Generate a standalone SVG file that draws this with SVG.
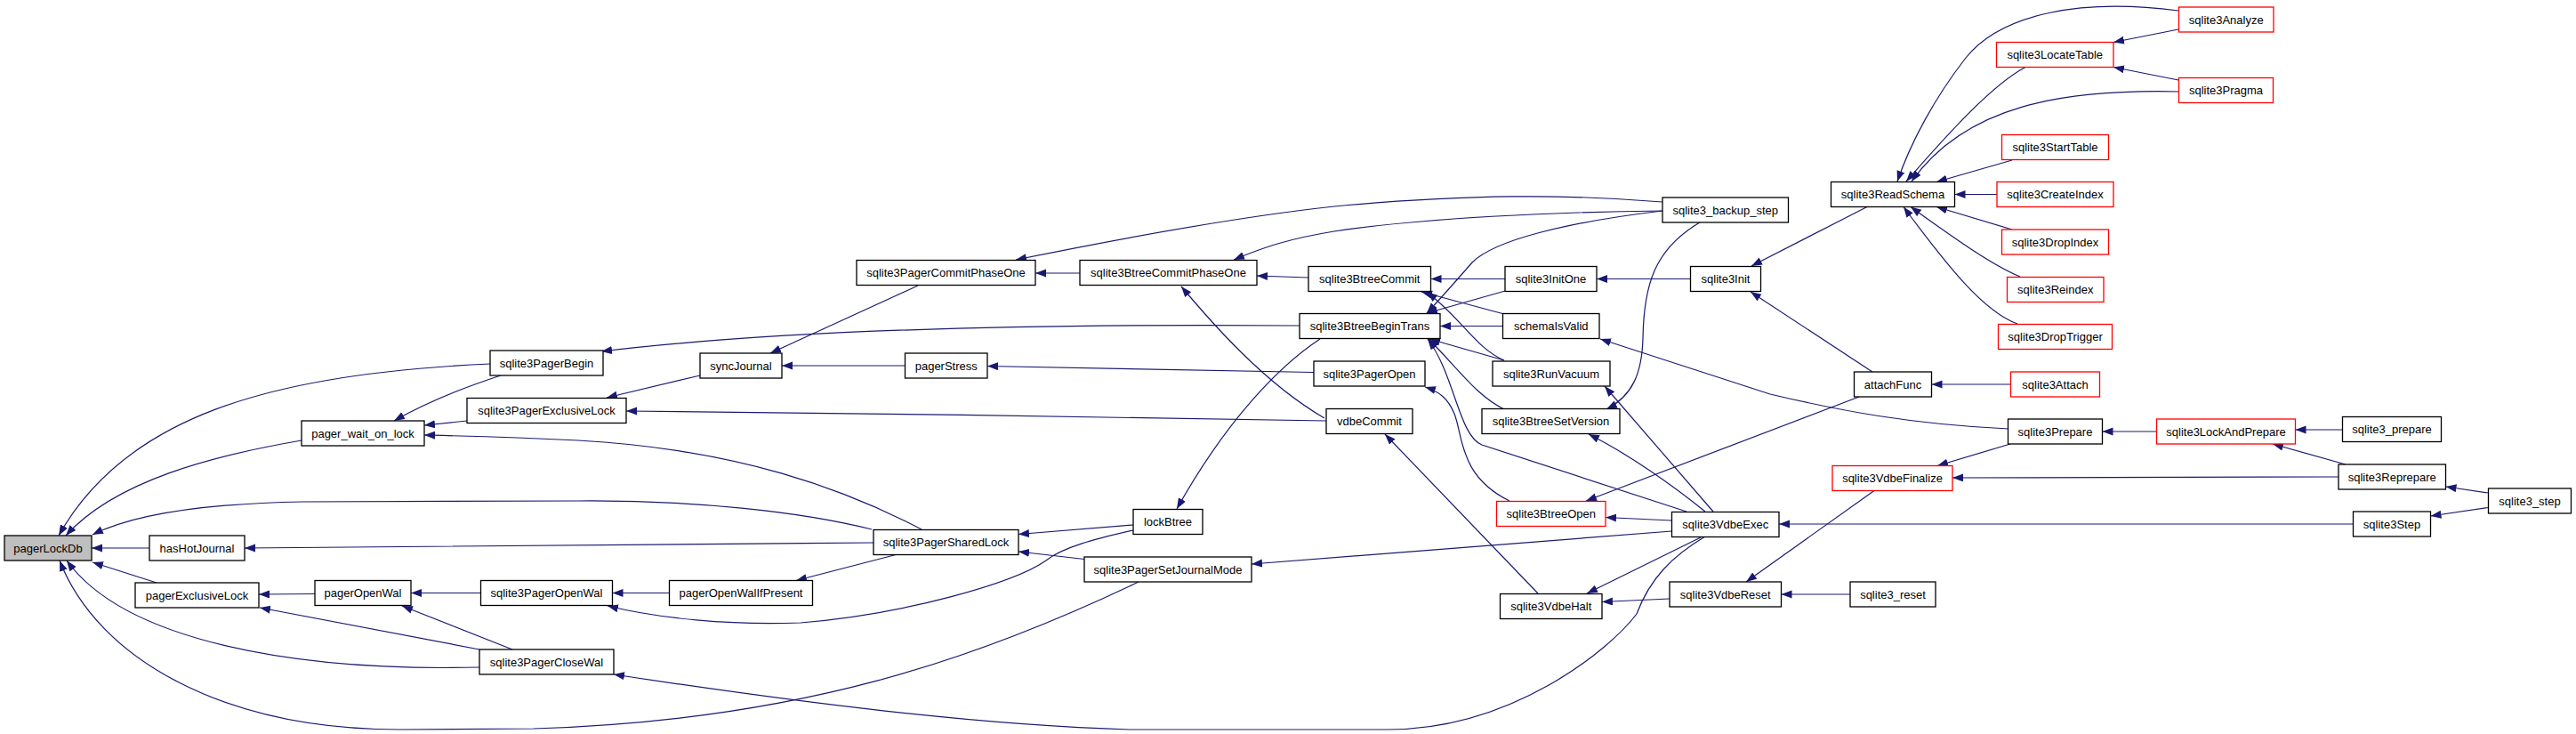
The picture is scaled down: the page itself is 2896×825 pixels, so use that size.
<svg xmlns="http://www.w3.org/2000/svg" width="2896" height="825" viewBox="0 0 2896 825">
<style>
.n rect{fill:#fff;stroke:#000;stroke-width:1.3}
.n.r rect{stroke:#f00}
.n.g rect{fill:#bfbfbf}
.n text{font-family:"Liberation Sans",Arial,sans-serif;font-size:13px;text-anchor:middle;fill:#000}
#edges path{fill:none;stroke:#191970;stroke-width:1.2;marker-end:url(#a)}
</style>
<defs>
<marker id="a" markerUnits="userSpaceOnUse" markerWidth="14" markerHeight="10" refX="12" refY="4.5" orient="auto"><path d="M0,0 L12,4.5 L0,9 z" fill="#191970"/></marker>
</defs>
<rect width="2896" height="825" fill="#fff"/>
<g id="edges">
<path d="M551,409 C300,420 140,470 66,602"/>
<path d="M339,495 C240,512 130,540 74,602"/>
<path d="M980,595 C900,575 780,562 650,563 L340,564 C230,566 150,578 104,601"/>
<path d="M168,616 L103,616"/>
<path d="M176,655 L104,632"/>
<path d="M539,750 C330,755 140,720 75,630"/>
<path d="M1280,654 C1100,740 900,810 600,819 L450,820 C250,820 110,740 67,630"/>
<path d="M563,422 C520,436 480,452 443,473"/>
<path d="M525,473 L477,478"/>
<path d="M1036,595 C950,550 830,505 650,495 C570,491 520,490 477,489"/>
<path d="M1461,366 C1200,364 900,368 676,395"/>
<path d="M787,422 L682,447"/>
<path d="M1491,473 C1250,470 950,463 704,462"/>
<path d="M1032,321 L866,397"/>
<path d="M1017,411 L879,411"/>
<path d="M1477,418.5 L1110,411.5"/>
<path d="M1869,227 C1760,218 1650,218 1500,232 C1380,245 1250,270 1142,292"/>
<path d="M1869,237 C1750,238 1600,245 1500,260 C1450,268 1420,278 1387,292"/>
<path d="M1471,312 L1413,310"/>
<path d="M1489,470 C1420,430 1360,360 1328,322"/>
<path d="M1214,307 L1164,307"/>
<path d="M1484,381 C1440,410 1380,470 1323,572"/>
<path d="M1869,237 C1760,250 1680,270 1655,295 C1635,318 1620,335 1604,352"/>
<path d="M1692,327 L1604,352"/>
<path d="M1689.5,366.5 L1619,366.5"/>
<path d="M1691,405 L1607,381"/>
<path d="M1691,460 C1660,445 1640,415 1606,381"/>
<path d="M1896,575 L1666,500 C1640,490 1635,420 1605,381"/>
<path d="M1692,313.5 L1608.5,313.5"/>
<path d="M1691,353 L1598,328"/>
<path d="M1691,405 C1660,392 1645,360 1604,328"/>
<path d="M1697,563 C1640,535 1645,490 1635,465 C1628,448 1618,440 1602,435"/>
<path d="M1729,667 L1557,488"/>
<path d="M1879,585 L1805,581.5"/>
<path d="M2090,446 L1783,563"/>
<path d="M1912,604 L1784,667"/>
<path d="M1877,673 L1801,676.5"/>
<path d="M1917,575 C1880,545 1830,510 1786,488"/>
<path d="M1926,575 L1804,434"/>
<path d="M1911,250 C1860,280 1848,320 1847,380 C1846,420 1835,445 1806,460"/>
<path d="M1900,313.5 L1795,313.5"/>
<path d="M2099,232.5 L1969,299"/>
<path d="M2105,418 L1968,328"/>
<path d="M2258,482 C2150,477 2070,462 1990,443 L1799,381"/>
<path d="M2449,12 C2340,-2 2250,15 2210,65 C2175,110 2148,160 2133,204"/>
<path d="M2277,75.5 C2240,95 2190,150 2143,204"/>
<path d="M2450,103 C2320,100 2210,118 2149,204"/>
<path d="M2262,180 L2177,204.5"/>
<path d="M2245,218.5 L2197.5,218.5"/>
<path d="M2262,258 L2177,232.5"/>
<path d="M2271,311 C2240,298 2200,270 2148,232.5"/>
<path d="M2268,364 C2230,350 2190,300 2140,232.5"/>
<path d="M2449,33 L2376,47.5"/>
<path d="M2449,90 L2376,75.5"/>
<path d="M2260.5,432 L2171.5,432"/>
<path d="M2424.5,485 L2363.5,485"/>
<path d="M2260,499 L2178,523.5"/>
<path d="M2629,536 L2195,537"/>
<path d="M2107,551.5 L1963,654"/>
<path d="M2080,668 L2002.5,668"/>
<path d="M2645.5,589 L2000,589"/>
<path d="M2633.5,483 L2580.5,483"/>
<path d="M2637,522 L2555,499"/>
<path d="M2797.5,554 L2749.5,547"/>
<path d="M2797.5,570.5 L2732.5,580"/>
<path d="M354,667.5 L291,668"/>
<path d="M539,730 L292,683"/>
<path d="M540.5,666.5 L462,666.5"/>
<path d="M576,730 L452,681"/>
<path d="M752.5,666.5 L688.5,666.5"/>
<path d="M1274,596 C1230,606 1195,615 1176,630 C1140,655 1020,690 900,700 C820,703 740,695 683,681"/>
<path d="M1007,623.5 L895,652.5"/>
<path d="M982,610 C700,612 400,616 275,616"/>
<path d="M1274,590 L1145,600.5"/>
<path d="M1219,628.5 L1145,620"/>
<path d="M1879.5,597 L1407,634"/>
<path d="M1917,603 C1880,625 1855,650 1840,690 C1810,730 1700,820 1560,820 L1270,820 C1100,815 900,790 690,758"/>
</g>
<g id="pagerLockDb" class="n g"><rect x="5" y="602" width="98" height="28"/><text x="54" y="620.5">pagerLockDb</text></g>
<g id="hasHotJournal" class="n"><rect x="168" y="602" width="107" height="28"/><text x="221.5" y="620.5">hasHotJournal</text></g>
<g id="pager_wait_on_lock" class="n"><rect x="339" y="473" width="138" height="28"/><text x="408" y="491.5">pager_wait_on_lock</text></g>
<g id="pagerExclusiveLock" class="n"><rect x="152" y="655" width="139" height="28"/><text x="221.5" y="673.5">pagerExclusiveLock</text></g>
<g id="pagerOpenWal" class="n"><rect x="354" y="652.5" width="108" height="28"/><text x="408" y="671">pagerOpenWal</text></g>
<g id="sqlite3PagerBegin" class="n"><rect x="551" y="394" width="127" height="28"/><text x="614.5" y="412.5">sqlite3PagerBegin</text></g>
<g id="sqlite3PagerExclusiveLock" class="n"><rect x="525" y="447.5" width="179" height="28"/><text x="614.5" y="466">sqlite3PagerExclusiveLock</text></g>
<g id="sqlite3PagerCloseWal" class="n"><rect x="539" y="730" width="151" height="28"/><text x="614.5" y="748.5">sqlite3PagerCloseWal</text></g>
<g id="sqlite3PagerOpenWal" class="n"><rect x="540.5" y="652.5" width="148" height="28"/><text x="614.5" y="671">sqlite3PagerOpenWal</text></g>
<g id="pagerOpenWalIfPresent" class="n"><rect x="752.5" y="652.5" width="161" height="28"/><text x="833" y="671">pagerOpenWalIfPresent</text></g>
<g id="syncJournal" class="n"><rect x="787" y="397" width="92" height="28"/><text x="833" y="415.5">syncJournal</text></g>
<g id="sqlite3PagerCommitPhaseOne" class="n"><rect x="963" y="292.5" width="201" height="28"/><text x="1063.5" y="311">sqlite3PagerCommitPhaseOne</text></g>
<g id="pagerStress" class="n"><rect x="1017.5" y="397" width="92.5" height="28"/><text x="1063.75" y="415.5">pagerStress</text></g>
<g id="sqlite3PagerSharedLock" class="n"><rect x="982" y="595.5" width="163" height="28"/><text x="1063.5" y="614">sqlite3PagerSharedLock</text></g>
<g id="sqlite3BtreeCommitPhaseOne" class="n"><rect x="1214" y="292.5" width="199" height="28"/><text x="1313.5" y="311">sqlite3BtreeCommitPhaseOne</text></g>
<g id="lockBtree" class="n"><rect x="1274" y="572.5" width="78" height="28"/><text x="1313" y="591">lockBtree</text></g>
<g id="sqlite3PagerSetJournalMode" class="n"><rect x="1219" y="626" width="188" height="28"/><text x="1313" y="644.5">sqlite3PagerSetJournalMode</text></g>
<g id="sqlite3BtreeCommit" class="n"><rect x="1471" y="299.5" width="137.5" height="28"/><text x="1539.75" y="318">sqlite3BtreeCommit</text></g>
<g id="sqlite3BtreeBeginTrans" class="n"><rect x="1461" y="352.5" width="158" height="28"/><text x="1540" y="371">sqlite3BtreeBeginTrans</text></g>
<g id="sqlite3PagerOpen" class="n"><rect x="1477" y="406" width="125" height="28"/><text x="1539.5" y="424.5">sqlite3PagerOpen</text></g>
<g id="vdbeCommit" class="n"><rect x="1491" y="459.5" width="97" height="28"/><text x="1539.5" y="478">vdbeCommit</text></g>
<g id="sqlite3BtreeOpen" class="n r"><rect x="1682.5" y="563.5" width="122.5" height="28"/><text x="1743.75" y="582">sqlite3BtreeOpen</text></g>
<g id="sqlite3VdbeHalt" class="n"><rect x="1686.5" y="667.5" width="114.5" height="28"/><text x="1743.75" y="686">sqlite3VdbeHalt</text></g>
<g id="sqlite3_backup_step" class="n"><rect x="1869" y="222" width="141.5" height="28"/><text x="1939.75" y="240.5">sqlite3_backup_step</text></g>
<g id="sqlite3InitOne" class="n"><rect x="1692" y="299.5" width="103" height="28"/><text x="1743.5" y="318">sqlite3InitOne</text></g>
<g id="schemaIsValid" class="n"><rect x="1689.5" y="352.5" width="108.5" height="28"/><text x="1743.75" y="371">schemaIsValid</text></g>
<g id="sqlite3RunVacuum" class="n"><rect x="1678" y="406" width="132" height="28"/><text x="1744" y="424.5">sqlite3RunVacuum</text></g>
<g id="sqlite3BtreeSetVersion" class="n"><rect x="1666" y="459.5" width="155" height="28"/><text x="1743.5" y="478">sqlite3BtreeSetVersion</text></g>
<g id="sqlite3VdbeExec" class="n"><rect x="1879.5" y="575.5" width="120.5" height="28"/><text x="1939.75" y="594">sqlite3VdbeExec</text></g>
<g id="sqlite3VdbeReset" class="n"><rect x="1877" y="654" width="125.5" height="28"/><text x="1939.75" y="672.5">sqlite3VdbeReset</text></g>
<g id="sqlite3Init" class="n"><rect x="1900.5" y="299.5" width="79" height="28"/><text x="1940" y="318">sqlite3Init</text></g>
<g id="attachFunc" class="n"><rect x="2084.5" y="418" width="87" height="28"/><text x="2128" y="436.5">attachFunc</text></g>
<g id="sqlite3Prepare" class="n"><rect x="2257.5" y="471" width="106" height="28"/><text x="2310.5" y="489.5">sqlite3Prepare</text></g>
<g id="sqlite3VdbeFinalize" class="n r"><rect x="2060" y="523.5" width="135" height="28"/><text x="2127.5" y="542">sqlite3VdbeFinalize</text></g>
<g id="sqlite3_reset" class="n"><rect x="2080" y="654" width="96" height="28"/><text x="2128" y="672.5">sqlite3_reset</text></g>
<g id="sqlite3ReadSchema" class="n"><rect x="2058.5" y="204.5" width="139" height="28"/><text x="2128" y="223">sqlite3ReadSchema</text></g>
<g id="sqlite3LocateTable" class="n r"><rect x="2244.5" y="47.5" width="131.5" height="28"/><text x="2310.25" y="66">sqlite3LocateTable</text></g>
<g id="sqlite3StartTable" class="n r"><rect x="2250.5" y="151.5" width="120" height="28"/><text x="2310.5" y="170">sqlite3StartTable</text></g>
<g id="sqlite3CreateIndex" class="n r"><rect x="2245" y="204.5" width="131" height="28"/><text x="2310.5" y="223">sqlite3CreateIndex</text></g>
<g id="sqlite3DropIndex" class="n r"><rect x="2250.5" y="258" width="120" height="28"/><text x="2310.5" y="276.5">sqlite3DropIndex</text></g>
<g id="sqlite3Reindex" class="n r"><rect x="2256.5" y="311.5" width="108.5" height="28"/><text x="2310.75" y="330">sqlite3Reindex</text></g>
<g id="sqlite3DropTrigger" class="n r"><rect x="2246.5" y="364.5" width="128" height="28"/><text x="2310.5" y="383">sqlite3DropTrigger</text></g>
<g id="sqlite3Attach" class="n r"><rect x="2260.5" y="418" width="100" height="28"/><text x="2310.5" y="436.5">sqlite3Attach</text></g>
<g id="sqlite3LockAndPrepare" class="n r"><rect x="2424.5" y="471" width="156" height="28"/><text x="2502.5" y="489.5">sqlite3LockAndPrepare</text></g>
<g id="sqlite3Analyze" class="n r"><rect x="2449.5" y="8" width="106.5" height="28"/><text x="2502.75" y="26.5">sqlite3Analyze</text></g>
<g id="sqlite3Pragma" class="n r"><rect x="2449.5" y="87.5" width="106" height="28"/><text x="2502.5" y="106">sqlite3Pragma</text></g>
<g id="sqlite3_prepare" class="n"><rect x="2633.5" y="468.5" width="111" height="28"/><text x="2689" y="487">sqlite3_prepare</text></g>
<g id="sqlite3Reprepare" class="n"><rect x="2629" y="522" width="120.5" height="28"/><text x="2689.25" y="540.5">sqlite3Reprepare</text></g>
<g id="sqlite3Step" class="n"><rect x="2645.5" y="575" width="87" height="28"/><text x="2689" y="593.5">sqlite3Step</text></g>
<g id="sqlite3_step" class="n"><rect x="2797.5" y="549" width="93" height="28"/><text x="2844" y="567.5">sqlite3_step</text></g>
</svg>
